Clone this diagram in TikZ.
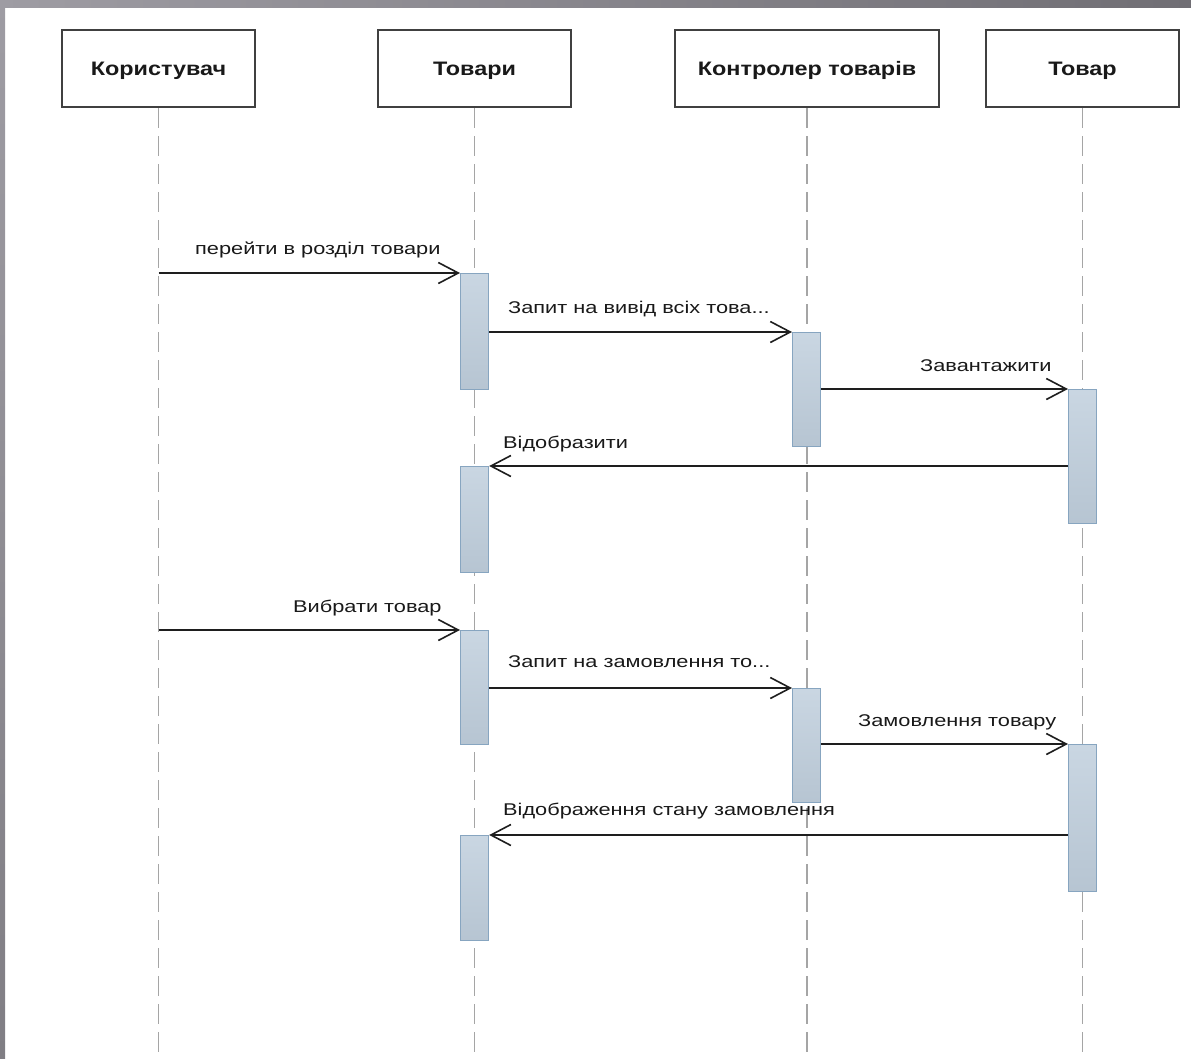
\documentclass[tikz,border=0pt]{standalone}
\usepackage{fontspec}
\setmainfont{Liberation Sans}
\newfontfamily\headfont[FakeStretch=1.2]{Liberation Sans}
\newfontfamily\lblfont[FakeStretch=1.28]{Liberation Sans}
\usetikzlibrary{arrows.meta}
\definecolor{actfill}{RGB}{192,207,221}
\definecolor{actdraw}{RGB}{135,165,192}
\definecolor{lifegray}{RGB}{165,165,165}
\definecolor{boxdraw}{RGB}{64,64,64}
\definecolor{frameA}{RGB}{158,156,163}
\definecolor{frameB}{RGB}{112,110,116}
\definecolor{frameC}{RGB}{128,126,132}
\definecolor{msgcol}{RGB}{30,30,30}
\begin{document}
\begin{tikzpicture}[x=1pt,y=-1pt,
  head/.style={draw=boxdraw,line width=2pt,fill=white,minimum height=77pt,
    inner sep=0pt,anchor=north west,text=black!90,text depth=0pt,
    font=\headfont\bfseries\fontsize{19.5}{22}\selectfont},
  act/.style={draw=actdraw,line width=1.2pt,top color=actfill!85!white,bottom color=actfill!95!black,
    minimum width=28pt,inner sep=0pt,anchor=north west},
  life/.style={draw=lifegray,line width=1.3pt,dash pattern=on 20pt off 8pt},
  msg/.style={draw=msgcol,line width=1.6pt,
    -{Straight Barb[length=20pt,width=21pt,line width=1.6pt]}},
  lbl/.style={inner sep=0pt,text=black!90,font=\lblfont\fontsize{17}{20}\selectfont}]
\useasboundingbox (0,0) rectangle (1191,1058);
% frame
\shade[left color=frameA,right color=frameB] (0,0) rectangle (1191,7);
\shade[top color=frameA,bottom color=frameC] (0,0) rectangle (5,1058);
% headers
\node[head,minimum width=193pt] (u) at (61,29) {Користувач};
\node[head,minimum width=193pt] (t) at (377,29) {Товари};
\node[head,minimum width=264pt] (k) at (674,29) {Контролер товарів};
\node[head,minimum width=193pt] (g) at (985,29) {Товар};
% lifeline ends
\coordinate (ue) at (u.south |- 0,1052);
\coordinate (te) at (t.south |- 0,1052);
\coordinate (ke) at (k.south |- 0,1052);
\coordinate (ge) at (g.south |- 0,1052);
\draw[life] (u.south) -- (ue);
\draw[life] (t.south) -- (te);
\draw[life] (k.south) -- (ke);
\draw[life] (g.south) -- (ge);
% activations
\node[act,minimum height=116pt] (a1) at (460,273) {};
\node[act,minimum height=114pt] (a2) at (792,332) {};
\node[act,minimum height=134pt] (a3) at (1068,389) {};
\node[act,minimum height=106pt] (a4) at (460,466) {};
\node[act,minimum height=114pt] (a5) at (460,630) {};
\node[act,minimum height=114pt] (a6) at (792,688) {};
\node[act,minimum height=147pt] (a7) at (1068,744) {};
\node[act,minimum height=105pt] (a8) at (460,835) {};
% message start points on the user lifeline
\coordinate (m1s) at (u.south |- a1.north);
\coordinate (m5s) at (u.south |- a5.north);
% messages
\draw[msg] (m1s) -- (a1.north west);
\draw[msg] (a1.east |- a2.north west) -- (a2.north west);
\draw[msg] (a2.east |- a3.north west) -- (a3.north west);
\draw[msg] (a3.west |- a4.north east) -- (a4.north east);
\draw[msg] (m5s) -- (a5.north west);
\draw[msg] (a5.east |- a6.north west) -- (a6.north west);
\draw[msg] (a6.east |- a7.north west) -- (a7.north west);
\draw[msg] (a7.west |- a8.north east) -- (a8.north east);
% labels
\node[lbl,anchor=base west] (l1) at (195,254) {перейти в розділ товари};
\node[lbl,anchor=base west] (l2) at (508,313) {Запит на вивід всіх това...};
\node[lbl,anchor=base west] (l3) at (920,371) {Завантажити};
\node[lbl,anchor=base west] (l4) at (503,448) {Відобразити};
\node[lbl,anchor=base west] (l5) at (293,612) {Вибрати товар};
\node[lbl,anchor=base west] (l6) at (508,667) {Запит на замовлення то...};
\node[lbl,anchor=base west] (l7) at (858,726) {Замовлення товару};
\node[lbl,anchor=base west] (l8) at (503,815) {Відображення стану замовлення};
\end{tikzpicture}
\end{document}
